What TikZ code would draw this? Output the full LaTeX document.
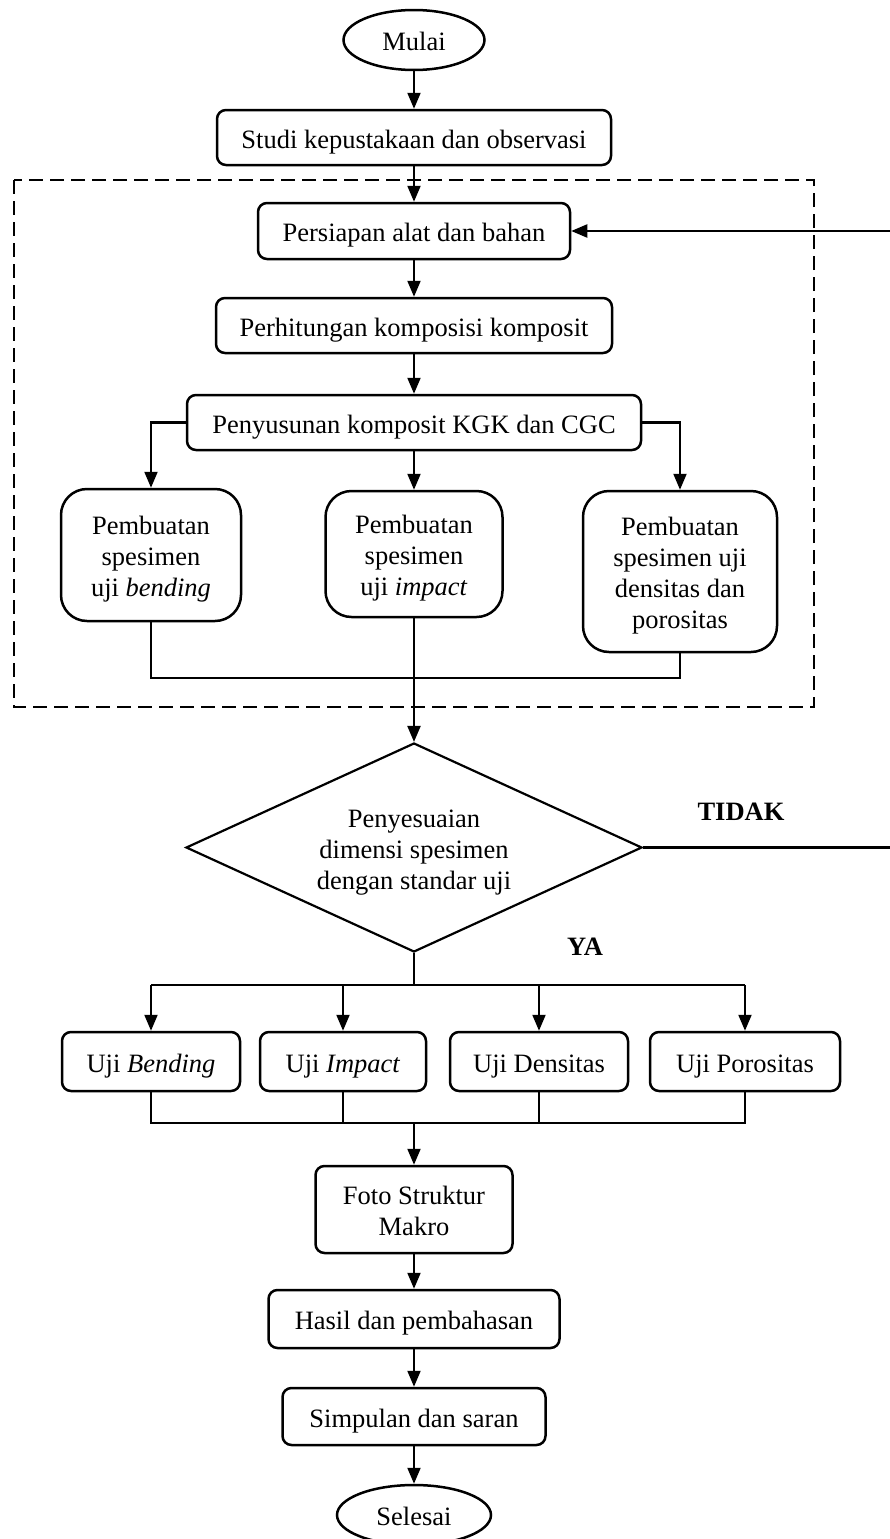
\documentclass[tikz,border=0pt]{standalone}
\usepackage{fontspec}
\usepackage{graphicx}
\setmainfont{Liberation Serif}
\usetikzlibrary{shapes.geometric,arrows.meta}
\newcommand{\stx}[1]{\raisebox{-4.5pt}[\height][\depth]{\begin{tabular}{@{}c@{}}#1\end{tabular}}}
\tikzset{
  base/.style={draw,line width=2.5pt,inner sep=0pt,align=center,font=\fontsize{26.5}{31}\selectfont},
  box/.style={base,rectangle,rounded corners=9pt},
  bigbox/.style={base,rectangle,rounded corners=26pt},
  term/.style={base,ellipse},
  decision/.style={base,diamond,shape aspect=2.18,line width=2.2pt},
  arr/.style={line width=2.1pt,-{Triangle[width=13pt,length=16pt]}},
  joinline/.style={line width=1.5pt},
  conn/.style={line width=2.1pt},
  lbl/.style={font=\fontsize{26.5}{31}\selectfont\bfseries,inner sep=0pt}
}
\begin{document}
\begin{tikzpicture}[x=1pt,y=-1pt]
\useasboundingbox (0,0) rectangle (890,1539);
\draw[line width=2pt,dash pattern=on 14pt off 7pt] (14,180) rectangle (814,707);

\node[term,minimum width=141pt,minimum height=60pt] (mulai) at (414,40) {\stx{Mulai}};
\node[box,minimum width=394pt,minimum height=55pt] (studi) at (414,137.5) {\stx{Studi kepustakaan dan observasi}};
\node[box,minimum width=312pt,minimum height=56pt] (persiapan) at (414,231) {\stx{Persiapan alat dan bahan}};
\node[box,minimum width=396pt,minimum height=55pt] (perhitungan) at (414,325.5) {\stx{Perhitungan komposisi komposit}};
\node[box,minimum width=454pt,minimum height=55pt] (penyusunan) at (414,422.5) {\stx{Penyusunan komposit KGK dan CGC}};

\node[bigbox,minimum width=180pt,minimum height=132pt] (pb1) at (151,555) {\stx{Pembuatan\\spesimen\\uji \textit{bending}}};
\node[bigbox,minimum width=177pt,minimum height=126pt] (pb2) at (414,554) {\stx{Pembuatan\\spesimen\\uji \textit{impact}}};
\node[bigbox,minimum width=194pt,minimum height=161pt] (pb3) at (680,571.5) {\stx{Pembuatan\\spesimen uji\\densitas dan\\porositas}};

\node[decision,minimum width=456pt,minimum height=209pt] (dia) at (414,847.5) {\stx{Penyesuaian\\dimensi spesimen\\dengan standar uji}};

\node[box,minimum width=178pt,minimum height=59pt] (ub1) at (151,1061.5) {\stx{Uji \textit{Bending}}};
\node[box,minimum width=166pt,minimum height=59pt] (ub2) at (343,1061.5) {\stx{Uji \textit{Impact}}};
\node[box,minimum width=178pt,minimum height=59pt] (ub3) at (539,1061.5) {\stx{Uji Densitas}};
\node[box,minimum width=190pt,minimum height=59pt] (ub4) at (745,1061.5) {\stx{Uji Porositas}};

\node[box,minimum width=197pt,minimum height=87pt] (foto) at (414,1209.5) {\stx{Foto Struktur\\Makro}};
\node[box,minimum width=291pt,minimum height=58pt] (hasil) at (414,1319) {\stx{Hasil dan pembahasan}};
\node[box,minimum width=263pt,minimum height=57pt] (simpulan) at (414,1416.5) {\stx{Simpulan dan saran}};
\node[term,minimum width=154pt,minimum height=60pt] (selesai) at (414,1515) {\stx{Selesai}};

\node[lbl] (tidak) at (741,810) {\stx{TIDAK}};
\node[lbl] (ya) at (585,945) {\stx{YA}};

\coordinate (j1) at (414,678);
\coordinate (j2) at (414,985);
\coordinate (j3) at (414,1123);
\coordinate (r) at (893,0);

\draw[arr] (mulai) -- (studi);
\draw[arr] (studi) -- (persiapan);
\draw[arr] (persiapan) -- (perhitungan);
\draw[arr] (perhitungan) -- (penyusunan);
\draw[arr] (penyusunan.west) -| (pb1.north);
\draw[arr] (penyusunan) -- (pb2);
\draw[arr] (penyusunan.east) -| (pb3.north);

\draw[joinline] (pb1.south) |- (pb3.south |- j1) -- (pb3.south);
\draw[arr] (pb2.south) -- (dia.north);

\draw[conn] (dia.east) -- (dia.east -| r);
\draw[arr] (dia.east -| r) |- (persiapan.east);

\draw[conn] (dia.south) -- (j2);
\draw[conn] (ub1.north |- j2) -- (ub4.north |- j2);
\draw[arr] (ub1.north |- j2) -- (ub1.north);
\draw[arr] (ub2.north |- j2) -- (ub2.north);
\draw[arr] (ub3.north |- j2) -- (ub3.north);
\draw[arr] (ub4.north |- j2) -- (ub4.north);

\draw[joinline] (ub1.south) |- (ub4.south |- j3) -- (ub4.south);
\draw[joinline] (ub2.south) -- (ub2.south |- j3);
\draw[joinline] (ub3.south) -- (ub3.south |- j3);
\draw[arr] (j3) -- (foto.north);

\draw[arr] (foto) -- (hasil);
\draw[arr] (hasil) -- (simpulan);
\draw[arr] (simpulan) -- (selesai);
\end{tikzpicture}
\end{document}
